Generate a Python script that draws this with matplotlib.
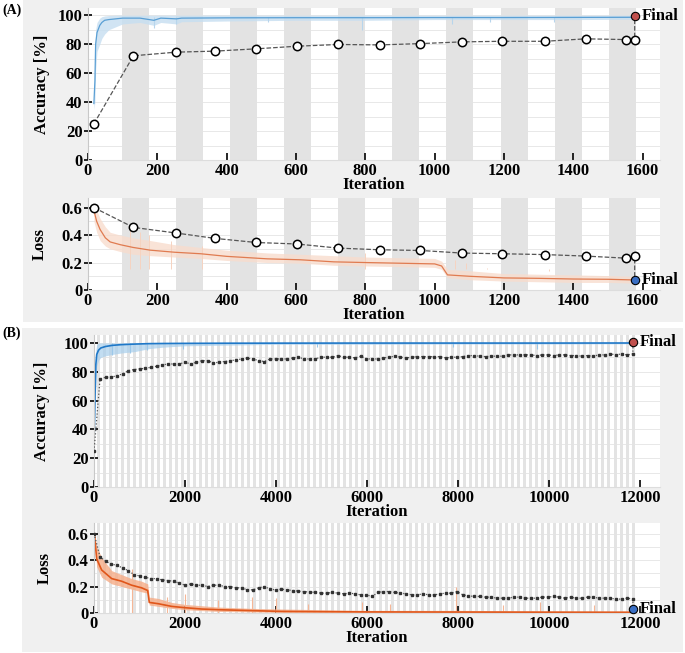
import numpy as np
import matplotlib.pyplot as plt
from matplotlib.patches import Rectangle

plt.rcParams['font.family'] = ['Liberation Serif', 'DejaVu Serif']
plt.rcParams['font.weight'] = 'bold'
plt.rcParams['axes.labelweight'] = 'bold'
plt.rcParams['font.size'] = 12

# ---------------- (A) short training ----------------
a_epoch_start, a_epoch_len, a_n_epochs = 20, 78, 20

a_acc_it = [17, 20, 22, 26, 34, 40, 48, 60, 80, 100, 150, 190, 210, 255, 270, 400, 600, 800, 1000, 1200, 1400, 1577]
a_acc = [39, 55, 80, 88, 93, 95, 96.5, 97, 97.5, 98, 98, 96.5, 98, 97.5, 98, 98.2, 98.3, 98.3, 98.4, 98.4, 98.5, 98.6]
a_acc_lo = [35, 40, 62, 75, 80, 84, 87, 90, 92, 94, 95, 93, 95, 94, 95.5, 96, 96.5, 96.5, 97, 97, 97, 97.2]
a_acc_hi = [42, 70, 90, 95, 98, 99, 99.5, 99.8, 100, 100, 100, 100, 100, 100, 100, 100, 100, 100, 100, 100, 100, 100]
a_acc_dip_it = [190, 255, 520, 790, 1050, 1160, 1345]
a_acc_dip = [91, 94, 95, 90, 94, 95, 95]

a_loss_it = [17, 25, 35, 50, 64, 93, 130, 180, 250, 325, 400, 517, 613, 709, 800, 900, 1000, 1020, 1037, 1100, 1200, 1300, 1400, 1500, 1577]
a_loss = [0.58, 0.50, 0.44, 0.38, 0.35, 0.33, 0.31, 0.29, 0.275, 0.264, 0.245, 0.227, 0.22, 0.205, 0.20, 0.195, 0.19, 0.175, 0.11, 0.10, 0.088, 0.085, 0.08, 0.078, 0.073]
a_loss_lo = [0.50, 0.42, 0.36, 0.32, 0.30, 0.28, 0.26, 0.25, 0.24, 0.23, 0.215, 0.20, 0.195, 0.18, 0.175, 0.17, 0.165, 0.15, 0.09, 0.075, 0.065, 0.06, 0.055, 0.055, 0.05]
a_loss_hi = [0.62, 0.58, 0.52, 0.46, 0.42, 0.40, 0.38, 0.36, 0.33, 0.31, 0.29, 0.27, 0.26, 0.25, 0.24, 0.235, 0.23, 0.21, 0.15, 0.14, 0.12, 0.115, 0.11, 0.105, 0.10]
a_loss_spike_it = [120, 150, 175, 240, 330, 800, 1060, 1090, 1150, 1330]
a_loss_spike = [0.44, 0.42, 0.40, 0.36, 0.32, 0.27, 0.22, 0.20, 0.16, 0.14]

a_val_it = [17, 131, 254, 366, 485, 603, 722, 841, 959, 1078, 1193, 1317, 1436, 1551, 1577]
a_val_acc = [25, 72, 74.5, 75.2, 76.8, 78.6, 79.8, 79.5, 80.4, 81.6, 82, 82, 83.7, 83.2, 83]
a_val_loss = [0.60, 0.456, 0.415, 0.376, 0.346, 0.335, 0.305, 0.293, 0.288, 0.269, 0.264, 0.258, 0.247, 0.232, 0.247]
a_final_it, a_final_acc, a_final_loss = 1577, 99.3, 0.073

# ---------------- (B) long training ----------------
b_epoch_start, b_epoch_len, b_n_epochs = 0, 66, 180

b_acc_it = [1, 20, 40, 60, 100, 150, 250, 400, 600, 900, 1200, 1500, 2000, 3000, 4000, 6000, 8000, 10000, 11880]
b_acc = [35, 60, 85, 92, 95, 96.5, 97.5, 98.3, 98.8, 99.2, 99.5, 99.6, 99.7, 99.8, 99.85, 99.9, 99.9, 99.9, 99.95]
b_acc_lo = [30, 40, 70, 84, 88, 90, 91, 92, 93, 94, 96, 97, 98, 98.5, 99, 99, 99.2, 99.2, 99.4]
b_acc_hi = [40, 75, 95, 99, 100, 100, 100, 100, 100, 100, 100, 100, 100, 100, 100, 100, 100, 100, 100]
b_acc_dip_it = [390, 790, 1160, 1960, 4900, 7900, 9740]
b_acc_dip = [91.7, 93, 95, 96, 97.5, 97, 96]

b_loss_it = [1, 58, 168, 388, 608, 828, 1048, 1180, 1215, 1414, 1707, 2000, 2366, 2732, 3465, 4125, 5000, 6000, 8000, 10000, 11880]
b_loss = [0.62, 0.41, 0.325, 0.26, 0.24, 0.21, 0.19, 0.17, 0.08, 0.07, 0.05, 0.04, 0.03, 0.025, 0.018, 0.012, 0.01, 0.008, 0.007, 0.006, 0.005]
b_loss_lo = [0.60, 0.35, 0.27, 0.22, 0.20, 0.18, 0.16, 0.15, 0.06, 0.05, 0.035, 0.025, 0.018, 0.012, 0.008, 0.004, 0.002, 0.001, 0.001, 0.001, 0.001]
b_loss_hi = [0.64, 0.50, 0.42, 0.32, 0.29, 0.26, 0.24, 0.22, 0.12, 0.11, 0.08, 0.065, 0.055, 0.045, 0.035, 0.03, 0.025, 0.02, 0.02, 0.015, 0.015]
b_loss_spike_it = [828, 1600, 2000, 2732, 3465, 4000, 4700, 5900, 6500, 7956, 9000, 9800, 11000]
b_loss_spike = [0.33, 0.12, 0.14, 0.10, 0.12, 0.11, 0.07, 0.08, 0.07, 0.20, 0.06, 0.08, 0.06]

b_val_first_acc, b_val_first_loss = 25, 0.60
b_val_start, b_val_step = 132, 124.6
b_val_acc = [75.0, 76.2, 76.2, 77.3, 78.5, 80.8, 81.5, 82.0, 82.4, 83.1, 83.8, 84.7, 85.4, 85.4, 85.4, 86.6,
             85.4, 86.6, 87.7, 87.7, 86.1, 86.6, 87.1, 87.7, 88.2, 88.9, 89.4, 88.9, 87.7, 87.1, 88.9, 88.9,
             88.9, 88.9, 89.6, 90.1, 88.9, 88.9, 88.9, 90.1, 90.1, 90.1, 91.2, 90.1, 90.1, 89.6, 90.8, 88.9,
             88.9, 88.9, 89.6, 90.1, 90.8, 90.1, 89.6, 90.1, 90.5, 90.5, 90.5, 90.5, 90.5, 89.6, 90.1, 90.1,
             90.5, 91.2, 91.2, 90.8, 90.5, 90.8, 90.8, 90.8, 91.7, 91.7, 91.7, 91.7, 91.7, 91.2, 91.7, 91.7,
             91.2, 91.7, 91.7, 91.2, 91.2, 90.8, 91.2, 90.8, 91.7, 91.7, 92.4, 91.7, 92.4, 91.7, 92.4]
b_val_loss = [0.425, 0.39, 0.37, 0.36, 0.34, 0.32, 0.29, 0.28, 0.27, 0.26, 0.26, 0.25, 0.245, 0.24, 0.225, 0.21,
              0.22, 0.21, 0.21, 0.20, 0.21, 0.21, 0.20, 0.20, 0.19, 0.19, 0.175, 0.175, 0.19, 0.20, 0.18, 0.175,
              0.18, 0.175, 0.17, 0.165, 0.16, 0.16, 0.155, 0.15, 0.15,
              0.155, 0.15, 0.145, 0.15, 0.145, 0.137, 0.137, 0.125, 0.155, 0.162, 0.162, 0.155, 0.15, 0.145,
              0.137, 0.137, 0.145, 0.137, 0.137, 0.145, 0.15, 0.15, 0.162,
              0.137, 0.13, 0.125, 0.125, 0.12, 0.12, 0.112, 0.112, 0.112, 0.12, 0.12, 0.112, 0.112, 0.112,
              0.12, 0.12, 0.125, 0.12, 0.112, 0.12, 0.112, 0.112, 0.12, 0.12, 0.112, 0.112, 0.112, 0.105,
              0.105, 0.112, 0.105]
b_final_it, b_final_acc, b_final_loss = 11846, 100.5, 0.032

a_xticks = [0, 200, 400, 600, 800, 1000, 1200, 1400, 1600]
b_xticks = [0, 2000, 4000, 6000, 8000, 10000, 12000]
acc_yticks = [0, 20, 40, 60, 80, 100]
loss_yticks = [0, 0.2, 0.4, 0.6]
loss_yticklabels = ['0', '0.2', '0.4', '0.6']

W, H = 685, 653
fig = plt.figure(figsize=(W / 100, H / 100), dpi=100)

# gray panel backgrounds
for top, bot, left in [(0, 322, 23), (328, 652, 22)]:
    fig.add_artist(Rectangle((left / W, 1 - bot / H), (683 - left) / W, (bot - top) / H,
                             transform=fig.transFigure, facecolor='#f0f0f0', edgecolor='none', zorder=-10))


def ax_at(l, t, r, b):
    return fig.add_axes([l / W, 1 - b / H, (r - l) / W, (b - t) / H])


def style(ax, xlim, xticks, ylim, yticks, yminor, ylabel, labx):
    ax.set_xlim(xlim)
    ax.set_ylim(ylim)
    ax.set_xticks(xticks)
    ax.set_yticks(yticks)
    ax.set_yticks(yminor, minor=True)
    ax.grid(True, axis='y', which='both', color='#e4e4e4', lw=0.6)
    ax.set_axisbelow(True)
    for s in ['top', 'right']:
        ax.spines[s].set_visible(False)
    ax.spines['left'].set_color('#c8c8c8')
    ax.spines['bottom'].set_color('#dddddd')
    ax.tick_params(axis='x', direction='in', length=5, width=1.2, pad=2, labelsize=12)
    ax.tick_params(axis='y', direction='inout', length=6, width=1.2, pad=1, labelsize=12)
    ax.tick_params(axis='y', which='minor', length=0)
    ax.set_xlabel('Iteration', labelpad=-1, fontsize=12)
    ax.set_ylabel(ylabel, fontsize=12)
    ax.yaxis.set_label_coords(labx, 0.5)


def epochs(ax, start, length, n):
    for k in range(1, n, 2):
        ax.axvspan(start + k * length, start + (k + 1) * length, color='#e3e3e3', lw=0, zorder=0.1)


def final(ax, x, y, col):
    ax.plot(x, y, 'o', ms=6, mfc=col, mec='black', mew=0.8, clip_on=False, zorder=6)
    ax.annotate('Final', (x, y), xytext=(5, 0), textcoords='offset points', va='center', ha='left',
                fontsize=12, fontweight='bold', annotation_clip=False)


axA1 = ax_at(88, 8, 660, 160)
axA2 = ax_at(88, 198, 660, 290)
axB1 = ax_at(94, 335, 660, 487)
axB2 = ax_at(94, 523, 660, 613)

# (A) accuracy
epochs(axA1, a_epoch_start, a_epoch_len, a_n_epochs)
axA1.fill_between(a_acc_it, a_acc_lo, a_acc_hi, color='#c6def1', lw=0, alpha=0.8, zorder=1)
axA1.vlines(a_acc_dip_it, a_acc_dip, 99, color='#b7d5ec', lw=0.8, zorder=1)
axA1.plot(a_acc_it, a_acc, color='#5a9fd4', lw=0.9, zorder=2)
axA1.plot(a_val_it + [a_final_it], a_val_acc + [a_final_acc], '--', color='#555555', lw=0.9, zorder=3)
axA1.plot(a_val_it, a_val_acc, 'o', ms=6, mfc='white', mec='black', mew=1.1, zorder=4)
final(axA1, a_final_it, a_final_acc, '#c0504d')
style(axA1, (0, 1650), a_xticks, (0, 105), acc_yticks, np.arange(0, 101, 10), 'Accuracy [%]', -0.066)

# (A) loss
epochs(axA2, a_epoch_start, a_epoch_len, a_n_epochs)
axA2.fill_between(a_loss_it, a_loss_lo, a_loss_hi, color='#f8dccd', lw=0, alpha=0.8, zorder=1)
axA2.vlines(a_loss_spike_it, 0.15, a_loss_spike, color='#f6d3c0', lw=0.7, zorder=1)
axA2.plot(a_loss_it, a_loss, color='#e07b50', lw=0.9, zorder=2)
axA2.plot(a_val_it + [a_final_it], a_val_loss + [a_final_loss], '--', color='#555555', lw=0.9, zorder=3)
axA2.plot(a_val_it, a_val_loss, 'o', ms=6, mfc='white', mec='black', mew=1.1, zorder=4)
final(axA2, a_final_it, a_final_loss, '#3a6fc4')
style(axA2, (0, 1650), a_xticks, (0, 0.67), loss_yticks, np.arange(0, 0.61, 0.1), 'Loss', -0.07)
axA2.set_yticklabels(loss_yticklabels)

# (B) validation iterations
b_val_it = [1] + list(b_val_start + b_val_step * np.arange(len(b_val_acc)))

# (B) accuracy
epochs(axB1, b_epoch_start, b_epoch_len, b_n_epochs)
axB1.fill_between(b_acc_it, b_acc_lo, b_acc_hi, color='#a8cfec', lw=0, alpha=0.7, zorder=1)
axB1.vlines(b_acc_dip_it, b_acc_dip, 100, color='#9dc8e9', lw=0.8, zorder=1)
axB1.plot(b_acc_it, b_acc, color='#1f78c8', lw=1.2, zorder=2)
axB1.plot(b_val_it + [b_final_it], [b_val_first_acc] + b_val_acc + [b_final_acc], ':', color='#555555', lw=0.9, zorder=3)
axB1.plot(b_val_it, [b_val_first_acc] + b_val_acc, 's', ms=1.7, color='#333333', zorder=4)
final(axB1, b_final_it, b_final_acc, '#c0504d')
style(axB1, (0, 12440), b_xticks, (0, 105.5), acc_yticks, np.arange(0, 101, 10), 'Accuracy [%]', -0.078)

# (B) loss
epochs(axB2, b_epoch_start, b_epoch_len, b_n_epochs)
axB2.fill_between(b_loss_it, b_loss_lo, b_loss_hi, color='#f5ab86', lw=0, alpha=0.8, zorder=1)
axB2.vlines(b_loss_spike_it, 0, b_loss_spike, color='#f6b797', lw=0.8, zorder=1)
axB2.plot(b_loss_it, b_loss, color='#e0561a', lw=1.2, zorder=2)
axB2.plot(b_val_it + [b_final_it], [b_val_first_loss] + b_val_loss + [b_final_loss], ':', color='#555555', lw=0.9, zorder=3)
axB2.plot(b_val_it, [b_val_first_loss] + b_val_loss, 's', ms=1.7, color='#333333', zorder=4)
final(axB2, b_final_it, b_final_loss, '#3a6fc4')
style(axB2, (0, 12440), b_xticks, (0, 0.68), loss_yticks, np.arange(0, 0.61, 0.1), 'Loss', -0.072)
axB2.set_yticklabels(loss_yticklabels)

fig.text(2 / W, 1 - 10 / H, '(A)', fontsize=10, fontweight='bold', va='center', ha='left')
fig.text(2 / W, 1 - 333 / H, '(B)', fontsize=10, fontweight='bold', va='center', ha='left')

fig.savefig('out.png', dpi=100)
